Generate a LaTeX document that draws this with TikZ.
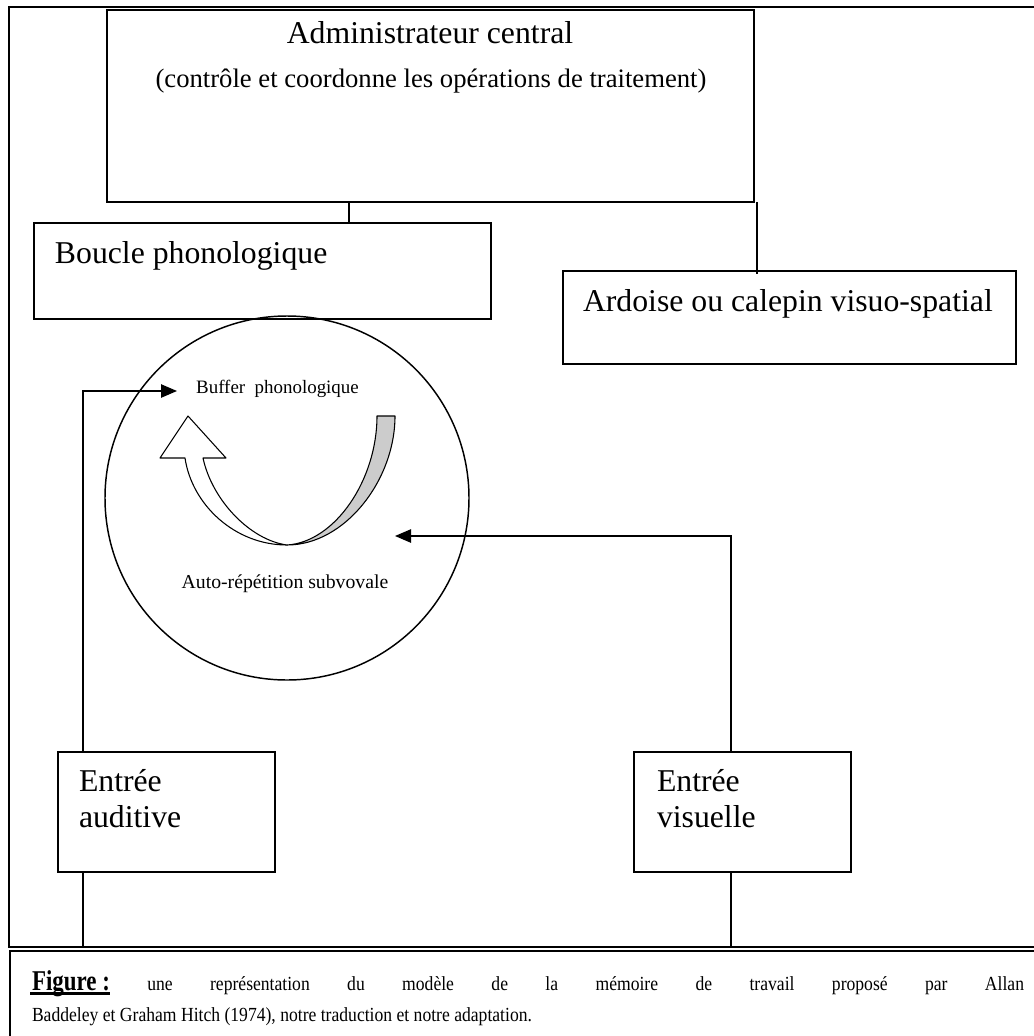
\documentclass[tikz,border=0pt]{standalone}
\usepackage{fontspec}
\setmainfont{Liberation Serif}
\newfontfamily\capfont{Liberation Serif}[FakeStretch=0.88]
\newfontfamily\figfont{Liberation Serif}[FakeStretch=0.8]
\usetikzlibrary{arrows.meta,calc}
\tikzset{
  box/.style={draw, line width=1.2pt, rectangle, inner sep=0pt, outer sep=0pt},
  lbl/.style={inner sep=0pt, outer sep=0pt, anchor=base west, font=\fontsize{23.8}{28}\selectfont},
  conn/.style={line width=1.1pt},
  arr/.style={line width=1.1pt, -{Triangle[length=12pt,width=10pt]}},
  ubend/.style={line width=0.8pt, line join=round}
}
\newcommand\ulbold[1]{\setbox0\hbox{\bfseries #1}\rlap{\kern-1.5pt\rule[-3.6pt]{\dimexpr\wd0+1.5pt\relax}{2.2pt}}\box0}
\begin{document}
\begin{tikzpicture}[x=0.75pt,y=-0.75pt]
\clip (0,0) rectangle (1034,1036);
\fill[white] (0,0) rectangle (1034,1036);
% outer frame and caption frame
\draw[line width=1.6pt] (9,7) rectangle (1060,947);
\draw[line width=1.3pt] (10,951) rectangle (1060,1060);
\coordinate (fbot) at (0,947);
% boxes
\node[box, minimum width=485.25pt, minimum height=144pt] (admin) at (430.5,106) {};
\node[box, minimum width=342.75pt, minimum height=72pt] (boucle) at (262.5,271) {};
\node[box, minimum width=339.75pt, minimum height=69.75pt] (ardoise) at (789.5,317.5) {};
\node[box, minimum width=162.75pt, minimum height=90pt] (entA) at (166.5,812) {};
\node[box, minimum width=162.75pt, minimum height=90pt] (entV) at (742.5,812) {};
% circle
\node[draw, circle, line width=1.1pt, minimum size=273pt, inner sep=0pt] (loop) at (287,498) {};
% texts
\node[lbl, anchor=base] (tadmin1) at (430,43) {Administrateur central};
\node[lbl, anchor=base, font=\fontsize{20}{24}\selectfont] (tadmin2) at (431,87) {(contrôle et coordonne les opérations de traitement)};
\node[lbl] (tboucle) at (55,263) {Boucle phonologique};
\node[lbl] (tardoise) at (583,311) {Ardoise ou calepin visuo-spatial};
\node[lbl] (tentA1) at (79,791) {Entrée};
\node[lbl] (tentA2) at (79,827) {auditive};
\node[lbl] (tentV1) at (657,791) {Entrée};
\node[lbl] (tentV2) at (657,827) {visuelle};
\node[lbl, anchor=base, font=\fontsize{14.2}{17}\selectfont] (tbuffer) at (277.5,393) {Buffer\ \ phonologique};
\node[lbl, anchor=base, font=\fontsize{14.8}{17}\selectfont] (tauto) at (285,588) {Auto-répétition subvovale};
% connector x positions
\coordinate (x1) at (349,0);
\coordinate (x2) at (757,0);
\coordinate (x3) at (83,0);
\coordinate (x4) at (731,0);
\coordinate (bufin) at (177,391);
\coordinate (rin) at (395,536);
\draw[conn] (admin.south -| x1) -- (boucle.north -| x1);
\draw[conn] (admin.south -| x2) -- ([yshift=-2pt]ardoise.north -| x2);
\draw[arr] (entA.north -| x3) |- (bufin);
\draw[arr] (entV.north -| x4) |- (rin);
\draw[conn] (entA.south -| x3) -- (x3 |- fbot);
\draw[conn] (entV.south -| x4) -- (x4 |- fbot);
% U-shaped block arrow
\draw[ubend, fill=black!20] (287,545) .. controls (335,542) and (377,480) .. (377,416) -- (395,416) .. controls (395,480) and (345,545) .. (287,545) -- cycle;
\draw[ubend, fill=white] (185,458) -- (160,458) -- (188,416) -- (226,458) -- (203,458) .. controls (212,500) and (250,540) .. (287,545) .. controls (235,545) and (192,505) .. (185,458) -- cycle;
% caption
\node[lbl, font=\capfont\fontsize{15}{18}\selectfont] (cap1) at (32,990) {\hbox to 744pt{{\figfont\fontsize{21.5}{25}\selectfont\ulbold{Figure :}}\capfont\fontsize{15}{18}\selectfont{} une représentation du modèle de la mémoire de travail proposé par Allan}};
\node[lbl, font=\capfont\fontsize{15}{18}\selectfont] (cap2) at (32,1021) {Baddeley et Graham Hitch (1974), notre traduction et notre adaptation.};
\end{tikzpicture}
\end{document}
